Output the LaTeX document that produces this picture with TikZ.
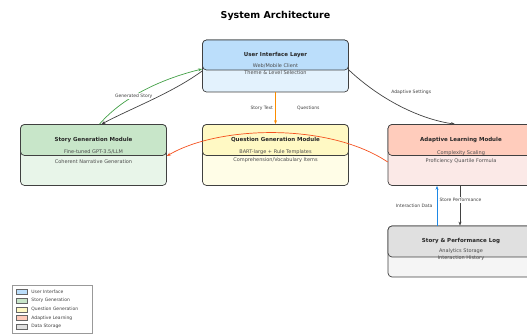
\documentclass[tikz,border=0pt]{standalone}
\usepackage{fontspec}
\setmainfont{DejaVu Sans}
\usetikzlibrary{arrows.meta,positioning}
\definecolor{UiHead}{HTML}{BBDEFB}
\definecolor{UiBody}{HTML}{E3F2FD}
\definecolor{StoryHead}{HTML}{C8E6C9}
\definecolor{StoryBody}{HTML}{E8F5E9}
\definecolor{QuesHead}{HTML}{FFF9C4}
\definecolor{QuesBody}{HTML}{FFFDE7}
\definecolor{AdaptHead}{HTML}{FFCCBC}
\definecolor{AdaptBody}{HTML}{FBE9E7}
\definecolor{LogHead}{HTML}{E0E0E0}
\definecolor{LogBody}{HTML}{F5F5F5}
\definecolor{EdgeGreen}{HTML}{43A047}
\definecolor{EdgeRed}{HTML}{F4511E}
\definecolor{EdgeOrange}{HTML}{FB8C00}
\definecolor{EdgeBlue}{HTML}{1E88E5}
\definecolor{EdgeDark}{HTML}{424242}

\begin{document}
\begin{tikzpicture}[x=1pt, y=-1pt,
	box/.style={draw=black!75, line width=0.7pt, rounded corners=4pt, minimum width=146pt},
	head/.style={draw=black!75, line width=0.7pt, rounded corners=4pt, minimum width=146pt, anchor=north},
	ttl/.style={font=\fontsize{5.5}{6}\selectfont\bfseries, text=black!85, inner sep=0pt},
	sub/.style={font=\fontsize{5}{6}\selectfont, text=black!70, inner sep=0pt},
	lbl/.style={font=\fontsize{4.5}{5}\selectfont, fill=white, inner sep=1.2pt, text=black!75},
	link/.style={-{Stealth[length=4pt,width=3pt]}, line width=0.7pt},
	swatch/.style={draw=black!60, line width=0.5pt, minimum width=11pt, minimum height=5pt, inner sep=0pt}]
	\useasboundingbox (0,0) rectangle (527,336);

	\node[font=\fontsize{9.5}{11}\selectfont\bfseries] (title) at (275.5,16) {System Architecture};

	% module boxes
	\node[box, fill=UiBody, minimum height=52pt] (ui) at (275.5,66) {};
	\node[head, fill=UiHead, minimum height=30pt] (ui-h) at (ui.north) {};
	\node[box, fill=StoryBody, minimum height=61pt] (story) at (93.5,155) {};
	\node[head, fill=StoryHead, minimum height=31pt] (story-h) at (story.north) {};
	\node[box, fill=QuesBody, minimum height=61pt] (ques) at (275.5,155) {};
	\node[head, fill=QuesHead, minimum height=31pt] (ques-h) at (ques.north) {};
	\node[box, fill=AdaptBody, minimum height=61pt] (adapt) at (461,155) {};
	\node[head, fill=AdaptHead, minimum height=31pt] (adapt-h) at (adapt.north) {};
	\node[box, fill=LogBody, minimum height=51pt] (log) at (461,251.5) {};
	\node[head, fill=LogHead, minimum height=31pt] (log-h) at (log.north) {};

	% texts
	\node[ttl] at ([yshift=-15pt]ui.north) {User Interface Layer};
	\node[sub] at ([yshift=-26pt]ui.north) {Web/Mobile Client};
	\node[sub] at ([yshift=-33pt]ui.north) {Theme \& Level Selection};
	\node[ttl] at ([yshift=-16pt]story.north) {Story Generation Module};
	\node[sub] at ([yshift=-28pt]story.north) {Fine-tuned GPT-3.5/LLM};
	\node[sub] at ([yshift=-37pt]story.north) {Coherent Narrative Generation};
	\node[ttl] at ([yshift=-16pt]ques.north) {Question Generation Module};
	\node[sub] at ([yshift=-28pt]ques.north) {BART-large + Rule Templates};
	\node[sub] at ([yshift=-36pt]ques.north) {Comprehension/Vocabulary Items};
	\node[ttl] at ([yshift=-16pt]adapt.north) {Adaptive Learning Module};
	\node[sub] at ([yshift=-29pt]adapt.north) {Complexity Scaling};
	\node[sub] at ([yshift=-37pt]adapt.north) {Proficiency Quartile Formula};
	\node[ttl] at ([yshift=-15pt]log.north) {Story \& Performance Log};
	\node[sub] at ([yshift=-25pt]log.north) {Analytics Storage};
	\node[sub] at ([yshift=-32pt]log.north) {Interaction History};

	% connectors
	\draw[link, EdgeGreen] ([xshift=6pt]story.north) .. controls +(25,-29) and +(-37,9) .. ([yshift=-3pt]ui.west)
		node[lbl, pos=0.38] {Generated Story};
	\draw[link, EdgeDark] ([yshift=-5pt]ui.west) .. controls +(-30,22) and +(30,-16) .. ([xshift=8pt]story.north);
	\draw[link, EdgeOrange] (ui.south) -- (ques.north)
		node[lbl, midway, left=1pt] {Story Text}
		node[lbl, midway, right=20pt] {Questions};
	\draw[link, EdgeDark] ([yshift=-4pt]ui.east) .. controls +(32,30) and +(-35,-5) .. ([xshift=-6pt]adapt.north)
		node[lbl, pos=0.5, anchor=south west, xshift=-11pt, yshift=10pt] {Adaptive Settings};
	\draw[link, EdgeRed] ([yshift=-7pt]adapt.west) .. controls +(-58,-39) and +(53,-31) .. ([yshift=-1pt]story.east);
	\draw[link, EdgeBlue] ([xshift=-24pt]log.north) -- ([xshift=-24pt]adapt.south)
		node[lbl, midway, left=3pt] {Interaction Data};
	\draw[link, EdgeDark] ([xshift=-1pt]adapt.south) -- ([xshift=-1pt]log.north)
		node[lbl, pos=0.35, right=-22pt] {Store Performance};

	% legend
	\node[draw=black!40, line width=0.5pt, fill=white, minimum width=80pt, minimum height=48pt] (legend) at (52,309) {};
	\foreach \c/\t [count=\i] in {UiHead/User Interface, StoryHead/Story Generation, QuesHead/Question Generation, AdaptHead/Adaptive Learning, LogHead/Data Storage}
	{
		\node[swatch, fill=\c] (sw-\i) at (21.5,{283.5+8.6*\i}) {};
		\node[font=\fontsize{4.5}{5}\selectfont, text=black!75, anchor=west, inner sep=0pt, right=4pt of sw-\i] (lg-\i) {\t};
	}
\end{tikzpicture}
\end{document}
